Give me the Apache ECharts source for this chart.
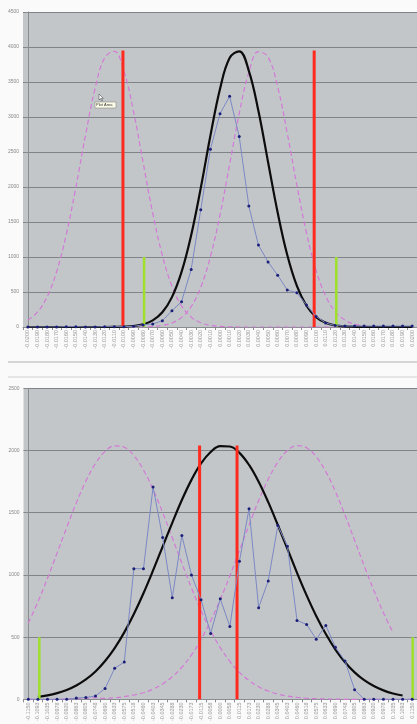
<!DOCTYPE html>
<html><head><meta charset="utf-8">
<script src="https://cdn.jsdelivr.net/npm/echarts@6/dist/echarts.min.js"></script>
<style>html,body{margin:0;padding:0;background:#fafafa}#c{width:417px;height:724px}</style>
</head><body><div id="c"></div>
<script>
// ---------- TOP CHART DATA ----------
const topLabels = ["-0.0200","-0.0190","-0.0180","-0.0170","-0.0160","-0.0150","-0.0140","-0.0130","-0.0120","-0.0110",
  "-0.0100","-0.0090","-0.0080","-0.0070","-0.0060","-0.0050","-0.0040","-0.0030","-0.0020","-0.0010",
  "0.0000","0.0010","0.0020","0.0030","0.0040","0.0050","0.0060","0.0070","0.0080","0.0090",
  "0.0100","0.0110","0.0120","0.0130","0.0140","0.0150","0.0160","0.0170","0.0180","0.0190","0.0200"];
const topObserved = [0,0,0,0,5,5,0,0,5,5, 5,10,30,43,90,233,362,820,1676,2539,
  3048,3296,2720,1729,1170,930,740,530,490,314, 150,57,20,14,14,14,14,14,14,14,14];
const topNormal = [0,0,0,0,0,0,0,0,0,2, 5,14,38,94,210,427,787,1312,1987,2731,
  3401,3843,3938,3660,3085,2358,1635,1028,587,303, 142,61,23,8,3,0,0,0,0,0,0];
const topPinkLeft = [95,212,430,790,1319,1995,2737,3408,3846,3937, 3655,3078,2351,1628,1023,583,301,141,60,23,
  8,3,0,0,0,0,0,0,0,0, 0,0,0,0,0,0,0,0,0,0,0];
const topPinkRight = [0,0,0,0,0,0,0,0,0,0, 0,0,0,8,22,58,137,293,569,1003,
  1602,2321,3050,3637,3933,3857,3430,2766,2025,1343, 808,441,218,98,40,15,5,2,0,0,0];
const topRedX = [9.9, 29.8];
const topRedTop = 3950;
const topGreenX = [12.1, 32.1];
const topGreenTop = 1000;
const topYTicks = {min:0, max:4500, interval:500};

// ---------- BOTTOM CHART DATA ----------
const botLabels = ["-0.1150","-0.1093","-0.1035","-0.0978","-0.0920","-0.0863","-0.0805","-0.0748","-0.0690","-0.0633",
  "-0.0575","-0.0518","-0.0460","-0.0403","-0.0345","-0.0288","-0.0230","-0.0173","-0.0115","-0.0058",
  "0.0000","0.0058","0.0115","0.0173","0.0230","0.0288","0.0345","0.0403","0.0460","0.0518",
  "0.0575","0.0633","0.0690","0.0748","0.0805","0.0863","0.0920","0.0978","0.1035","0.1093","0.1150"];
const botObserved = [0,0,0,0,0,10,15,27,87,250, 300,1050,1050,1707,1300,816,1317,1000,800,530,
  808,586,1110,1532,737,952,1397,1230,634,602, 483,594,419,308,77,0,0,0,0,0,0];
const botNormal = [null,20,32,50,75,111,160,224,308,412, 538,686,853,1036,1228,1419,1602,1764,1896,1988,
  2035,2032,1981,1884,1749,1585,1401,1209,1017,836, 670,525,400,298,217,154,107,72,47,31,null];
const botPinkLeft = [614,783,973,1176,1381,1579,1754,1896,1993,2037, 2026,1960,1844,1687,1501,1299,1094,896,713,552,
  416,305,217,151,101,67,42,26,16,9, 5,3,2,0,0,0,0,0,0,0,0];
const botPinkRight = [0,0,0,0,3,5,8,13,8,13, 22,35,53,82,124,181,258,357,481,630,
  802,993,1196,1401,1597,1769,1907,2000,2039,2022, 1950,1830,1669,1481,1278,1073,876,696,537,null,null];
const botRedX = [17.85, 21.75];
const botRedTop = 2040;
const botGreenX = [1.15, 40.05];
const botGreenTop = 500;
const botYTicks = {min:0, max:2500, interval:500};

// ---------- BUILD ----------
const chart = echarts.init(document.getElementById('c'), null, {renderer:'canvas'});
const grids = [
  {left:23, top:12, width:395, height:315},
  {left:23.5, top:388.3, width:395, height:314.4}
];
function catAxis(labels, gi){
  return {type:'category', gridIndex:gi, data:labels, boundaryGap:true,
    axisLine:{lineStyle:{color:'#8a8d90', width:1}},
    axisTick:{show:true, length:3, lineStyle:{color:'#8a8d90'}},
    axisLabel:{rotate:90, fontSize:5.5, color:'#999', margin:3, interval:0, fontFamily:'Liberation Sans'}};
}
function valXAxis(gi){
  return {type:'value', gridIndex:gi, min:-0.5, max:40.5, show:false};
}
function yAxis(t, gi){
  return {type:'value', gridIndex:gi, min:t.min, max:t.max, interval:t.interval,
    axisLine:{show:true, lineStyle:{color:'#8a8d90'}},
    axisTick:{show:true, length:3, lineStyle:{color:'#8a8d90'}},
    axisLabel:{fontSize:5, color:'#888', margin:4, fontFamily:'Liberation Sans', formatter: v => String(v)},
    splitLine:{show:true, lineStyle:{color:'#808488', width:1}}};
}
function vlines(xs, top, color, width, xi, yi){
  return xs.map(x => ({type:'line', xAxisIndex:xi, yAxisIndex:yi, data:[[x,0],[x,top]],
    symbol:'none', silent:true, z:4, lineStyle:{color:color, width:width}}));
}
function curve(data, xi, yi, color, width, dashed, z){
  return {type:'line', xAxisIndex:xi, yAxisIndex:yi, data:data, smooth:0.4, symbol:'none', z:z,
    connectNulls:false, lineStyle:{color:color, width:width, type: dashed ? [5,3] : 'solid'}};
}
function observed(data, xi, yi){
  return {type:'line', xAxisIndex:xi, yAxisIndex:yi, data:data, symbol:'circle', symbolSize:3, z:5,
    lineStyle:{color:'#7c88c4', width:1}, itemStyle:{color:'#1c1f78'}};
}
const pink = '#d27ad6';
const series = [
  curve(topPinkLeft,0,0,pink,1.2,true,2),
  curve(topPinkRight,0,0,pink,1.2,true,2),
  ...vlines(topRedX, topRedTop, '#ff2a1e', 3, 1, 0),
  ...vlines(topGreenX, topGreenTop, '#9ee02a', 2.5, 1, 0),
  curve(topNormal,0,0,'#0c0c0c',2.2,false,3),
  observed(topObserved,0,0),

  curve(botPinkLeft,2,1,pink,1.2,true,2),
  curve(botPinkRight,2,1,pink,1.2,true,2),
  ...vlines(botRedX, botRedTop, '#ff2a1e', 3, 3, 1),
  ...vlines(botGreenX, botGreenTop, '#9ee02a', 2.5, 3, 1),
  curve(botNormal,2,1,'#0c0c0c',2.2,false,3),
  observed(botObserved,2,1)
];
chart.setOption({
  animation:false,
  backgroundColor:'#fafafa',
  grid: grids.map(g => Object.assign({show:true, backgroundColor:'#c3c6c9', borderWidth:0}, g)),
  xAxis:[catAxis(topLabels,0), valXAxis(0), catAxis(botLabels,1), valXAxis(1)],
  yAxis:[yAxis(topYTicks,0), yAxis(botYTicks,1)],
  series: series,
  graphic:[
    {type:'line', shape:{x1:8, y1:362, x2:417, y2:362}, style:{stroke:'#c8c8c8', lineWidth:1.5}},
    {type:'line', shape:{x1:8, y1:377, x2:417, y2:377}, style:{stroke:'#d0d0d0', lineWidth:1}},
    {type:'rect', shape:{x:95, y:102, width:21, height:6}, style:{fill:'#fbfbe8', stroke:'#777', lineWidth:0.5}, z:20},
    {type:'text', x:96, y:103, style:{text:'Plot Area', fontSize:4, fill:'#333', fontFamily:'Liberation Sans'}, z:21},
    {type:'polygon', shape:{points:[[99,94],[99,100],[100.5,98.6],[101.7,101],[102.5,100.6],[101.4,98.3],[103.3,98.3]]},
      style:{fill:'#fff', stroke:'#333', lineWidth:0.5}, z:21}
  ]
});
</script></body></html>
